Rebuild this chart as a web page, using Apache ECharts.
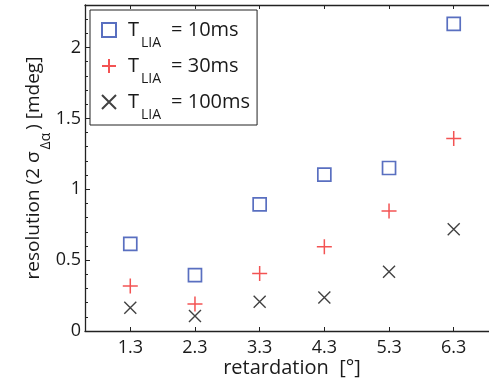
<!DOCTYPE html>
<html>
<head>
<meta charset="utf-8">
<script src="https://cdn.jsdelivr.net/npm/echarts@6/dist/echarts.min.js"></script>
<style>html,body{margin:0;padding:0;background:#fff;overflow:hidden}#c{width:489px;height:384px}</style>
</head>
<body>
<div id="c"></div>
<script>
var categories = [1.3, 2.3, 3.3, 4.3, 5.3, 6.3];
var s10 = [0.615, 0.394, 0.894, 1.103, 1.150, 2.167];
var s30 = [0.317, 0.190, 0.406, 0.594, 0.847, 1.359];
var s100 = [0.164, 0.106, 0.206, 0.237, 0.418, 0.718];
var seriesNames = ['10ms', '30ms', '100ms'];
var xTicks = [1.3, 2.3, 3.3, 4.3, 5.3, 6.3];
var yTicks = [0, 0.5, 1, 1.5, 2];
var yMinorTicks = [0.1, 0.2, 0.3, 0.4, 0.6, 0.7, 0.8, 0.9, 1.1, 1.2, 1.3, 1.4, 1.6, 1.7, 1.8, 1.9, 2.1, 2.2];

var FONT = 'Open Sans';
var AX = '#222';
var TXT = '#1a1a1a';
function pts(v) { return categories.map(function (x, i) { return [x, v[i]]; }); }

var chart = echarts.init(document.getElementById('c'), null, {renderer: 'canvas'});
chart.setOption({
  animation: false,
  textStyle: {fontFamily: FONT},
  grid: {left: 85, width: 414, top: 5, bottom: 53, containLabel: false, outerBoundsMode: 'none'},
  legend: {
    orient: 'vertical', left: 90, top: 10,
    padding: [0, 7, 3, 11], itemGap: -4,
    itemWidth: 14, itemHeight: 14,
    backgroundColor: '#fff', borderColor: AX, borderWidth: 1,
    data: seriesNames,
    formatter: function (n) { return '{t|T}{s|LIA}{n|= ' + n + '}'; },
    textStyle: {
      fontFamily: FONT, color: TXT,
      rich: {
        t: {fontFamily: FONT, fontSize: 20, lineHeight: 22, padding: [0, 0, 0, 7], color: TXT},
        s: {fontFamily: FONT, fontSize: 14, lineHeight: 14, padding: [26, 0, 0, 2], color: TXT},
        n: {fontFamily: FONT, fontSize: 20, lineHeight: 22, padding: [0, 0, 0, 10], color: TXT}
      }
    }
  },
  xAxis: [{
    type: 'value', min: 0.6, max: 7.0, position: 'bottom',
    axisLine: {onZero: false, lineStyle: {color: AX, width: 1.3}},
    axisTick: {inside: true, length: 4, customValues: xTicks, lineStyle: {color: AX}},
    axisLabel: {customValues: xTicks, fontSize: 18, lineHeight: 22, margin: 6, color: TXT, fontFamily: FONT},
    splitLine: {show: false},
    name: 'retardation  [°]', nameLocation: 'middle', nameGap: 26, nameMoveOverlap: false,
    nameTextStyle: {fontSize: 20, lineHeight: 22, color: TXT, fontFamily: FONT}
  }, {
    type: 'value', min: 0.6, max: 7.0, position: 'top',
    axisLine: {onZero: false, lineStyle: {color: AX, width: 1.3}},
    axisTick: {inside: true, length: 4, customValues: xTicks, lineStyle: {color: AX}},
    axisLabel: {show: false},
    splitLine: {show: false}
  }],
  yAxis: [{
    type: 'value', min: 0, max: 2.3, position: 'left',
    axisLine: {show: true, onZero: false, lineStyle: {color: AX, width: 1.3}},
    axisTick: {show: true, inside: true, length: 5, customValues: yTicks, lineStyle: {color: AX}},
    axisLabel: {customValues: yTicks, fontSize: 18, margin: 4, color: TXT, fontFamily: FONT},
    splitLine: {show: false},
    name: '{a|resolution (2 σ}{b|Δα}{a|) [mdeg]}', nameLocation: 'middle', nameGap: 41, nameRotate: 90, nameMoveOverlap: false,
    nameTextStyle: {
      color: TXT, fontFamily: FONT,
      rich: {
        a: {fontSize: 19, lineHeight: 21, color: TXT, fontFamily: FONT},
        b: {fontSize: 14, lineHeight: 14, padding: [25, 3, 0, 2], color: TXT, fontFamily: FONT}
      }
    }
  }, {
    type: 'value', min: 0, max: 2.3, position: 'left',
    axisLine: {show: false, onZero: false},
    axisTick: {show: true, inside: true, length: 3, customValues: yMinorTicks, lineStyle: {color: AX}},
    axisLabel: {show: false},
    splitLine: {show: false}
  }],
  series: [{
    name: seriesNames[0], type: 'scatter', data: pts(s10),
    symbol: 'rect', symbolSize: 13,
    itemStyle: {color: 'rgba(0,0,0,0)', borderColor: '#2f4bb0', borderWidth: 1.7}
  }, {
    name: seriesNames[1], type: 'scatter', data: pts(s30),
    symbol: 'path://M0,5L10,5M5,0L5,10', symbolSize: 15,
    itemStyle: {color: 'rgba(0,0,0,0)', borderColor: '#f02828', borderWidth: 1.5}
  }, {
    name: seriesNames[2], type: 'scatter', data: pts(s100),
    symbol: 'path://M0,0L10,10M10,0L0,10', symbolSize: 12,
    itemStyle: {color: 'rgba(0,0,0,0)', borderColor: '#111', borderWidth: 1.4}
  }]
});
</script>
</body>
</html>
